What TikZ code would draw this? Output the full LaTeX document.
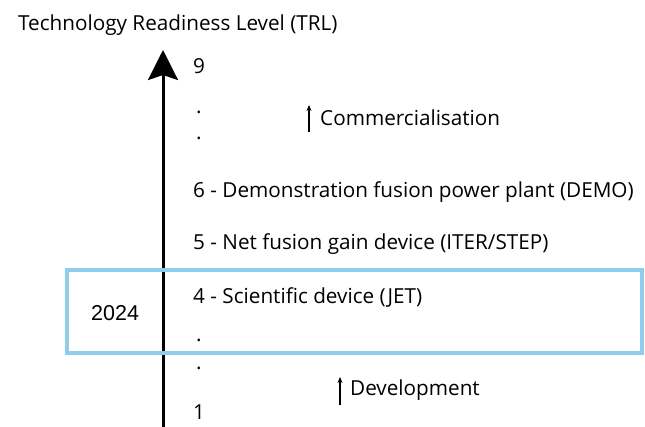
\documentclass[tikz,border=0pt]{standalone}
\usepackage{fontspec}
\setmainfont{Open Sans}
\newfontfamily\yearfont{Liberation Sans}
\usetikzlibrary{arrows.meta}
\definecolor{boxblue}{RGB}{142,206,234}
\begin{document}
\begin{tikzpicture}[x=1pt,y=-1pt,
  lbl/.style={anchor=base west,inner sep=0pt,font=\fontsize{20.7}{22}\selectfont},
  dotlbl/.style={anchor=base west,inner sep=0pt,font=\fontsize{20.7}{22}\selectfont},
  smallarrow/.style={line width=1.1pt,-{Stealth[length=6pt,width=5pt]}}]
\useasboundingbox (0,0) rectangle (645,426);
\fill[white] (0,0) rectangle (645,426);
% title
\node[lbl] (title) at (18,30) {Technology Readiness Level (TRL)};
% main axis
\coordinate (axisbot) at (163,440);
\coordinate (axistop) at (163,50);
\draw[line width=3pt,-{Stealth[length=30pt,width=30pt,inset=5pt]}] (axisbot) -- (axistop);
% highlight box
\draw[boxblue,line width=3.5pt] (67,270) rectangle (642,353);
\node[anchor=base west,inner sep=0pt,font=\yearfont\fontsize{21.5}{22}\selectfont] (year) at (91,320) {2024};
% levels
\node[lbl] (l9) at (193,73) {9};
\node[dotlbl] (d1) at (196,113) {.};
\node[dotlbl] (d2) at (196,139) {.};
\node[lbl] (l6) at (193,197) {6 - Demonstration fusion power plant (DEMO)};
\node[lbl] (l5) at (193,249) {5 - Net fusion gain device (ITER/STEP)};
\node[lbl] (l4) at (193,303) {4 - Scientific device (JET)};
\node[dotlbl] (d3) at (196,341) {.};
\node[dotlbl] (d4) at (196,369) {.};
\node[lbl] (l1) at (193,419) {1};
% phases
\node[lbl] (comm) at (320,125) {Commercialisation};
\coordinate (ca0) at (309,132);
\coordinate (ca1) at (309,105);
\draw[smallarrow] (ca0) -- (ca1);
\node[lbl] (dev) at (350,395) {Development};
\coordinate (da0) at (340,405);
\coordinate (da1) at (340,377);
\draw[smallarrow] (da0) -- (da1);
\end{tikzpicture}
\end{document}
